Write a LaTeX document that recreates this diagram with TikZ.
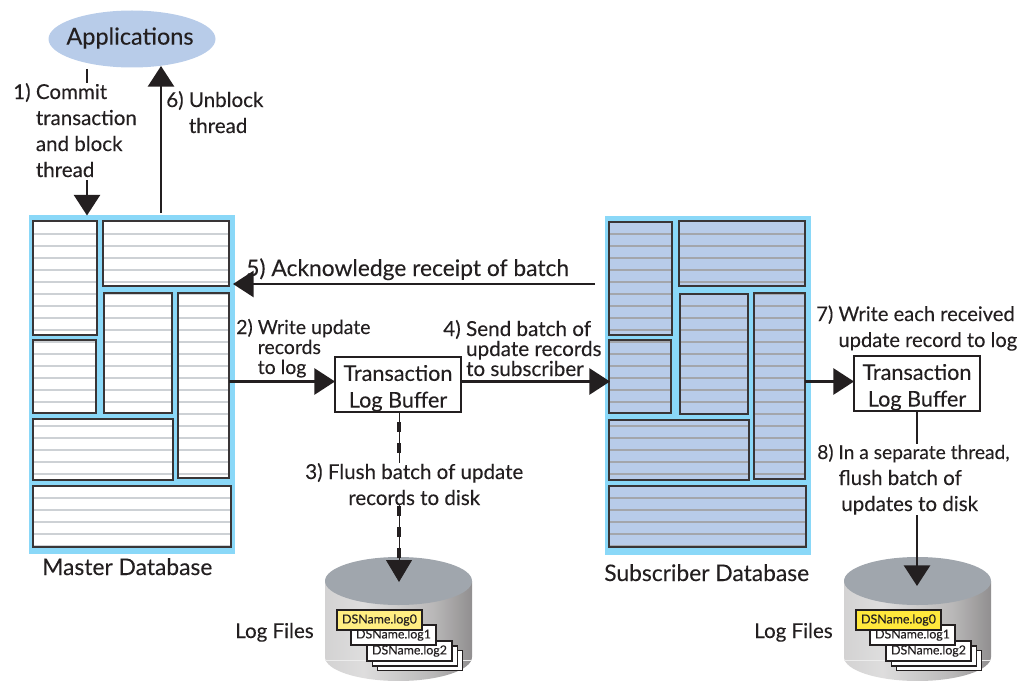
\documentclass[tikz,border=0pt]{standalone}
\usepackage{fontspec}
\setmainfont[FakeBold=0.12]{Lato}
\usetikzlibrary{arrows.meta,shapes.geometric}
\definecolor{ink}{HTML}{231F20}
\definecolor{frameblue}{HTML}{8AD8F8}
\definecolor{panelblue}{HTML}{B8CCE9}
\definecolor{gridlight}{HTML}{CDD1D5}
\definecolor{griddark}{HTML}{A3A6AB}
\definecolor{disktop}{HTML}{A0A6AD}
\definecolor{softyellow}{HTML}{FFEE82}
\definecolor{hotyellow}{HTML}{FFE83C}
\pgfdeclarehorizontalshading{cylbody}{100bp}{color(0bp)=(ink!20!white);color(25bp)=(ink!20!white);color(38bp)=(ink!15!white);color(62bp)=(ink!32!white);color(75bp)=(ink!50!white);color(100bp)=(ink!52!white)}
\tikzset{
  conn/.style={draw=ink,line width=2.2pt},
  arrowed/.style={conn,-{Triangle[length=15.5pt,width=19.5pt]}},
  label/.style={anchor=base west,inner sep=0pt,text=ink,align=left,font=\fontsize{15.4pt}{19.5pt}\selectfont},
  tight/.style={font=\fontsize{#1}{15pt}\selectfont},
  big/.style={font=\fontsize{17.1pt}{19.5pt}\selectfont},
  hide/.style={fill=white},
  dbframe/.style={fill=frameblue,inner sep=0pt,outer sep=0pt},
  panelbox/.style={draw=ink!90,line width=1.5pt,inner sep=0pt,outer sep=0pt},
  txbox/.style={draw=ink,line width=1.5pt,fill=white,inner sep=0pt,outer sep=0pt,text=ink,align=center,minimum width=94.5pt,minimum height=41.5pt,font=\fontsize{16.2pt}{20pt}\selectfont},
  logbox/.style={draw=ink,line width=1.2pt,fill=white,inner sep=0pt,outer sep=0pt,text=ink,minimum width=64pt,minimum height=15pt,font=\fontsize{9.3pt}{12pt}\selectfont},
}
% name, x1,y1,x2,y2, fill, gridcolor
\newcommand{\dbpanel}[7]{%
  \fill[#6] (#2,#3) rectangle (#4,#5);
  \begin{scope}
    \clip (#2,#3) rectangle (#4,#5);
    \foreach \gy in {234,246,...,546} \draw[#7,line width=1.1pt] (#2,\gy) -- (#4,\gy);
  \end{scope}
  \pgfmathsetmacro{\pw}{(#4-#2)*0.75}\pgfmathsetmacro{\ph}{(#5-#3)*0.75}
  \node[panelbox,minimum width=\pw pt,minimum height=\ph pt] (#1) at ({(#2+#4)/2},{(#3+#5)/2}) {};
}
% prefix, xoffset, top colour
\newcommand{\diskstack}[3]{%
  \begin{scope}[xshift=#2*0.75pt]
    \shade[shading=cylbody] (325,581) -- (325,657) .. controls (325,670.25) and (358,681) .. (398.5,681) .. controls (439,681) and (472,670.25) .. (472,657) -- (472,581) -- cycle;
    \draw[white!85!gray,line width=0.6pt] (325,660) -- (472,660);
    \node[ellipse,fill=disktop,inner sep=0pt,outer sep=0pt,minimum width=110.25pt,minimum height=36pt] (#1top) at (398.5,581) {};
    \node[logbox] (#1back) at (420,660.5) {};
    \node[logbox] (#1mid) at (415,656) {};
    \node[logbox] (#1c) at (409.5,651) {DSName.log2};
    \node[logbox] (#1b) at (393.5,635) {DSName.log1};
    \node[logbox,fill=#3] (#1a) at (379.5,620) {DSName.log0};
  \end{scope}
}
\begin{document}
\begin{tikzpicture}[x=0.75pt,y=-0.75pt]
\useasboundingbox (0,0) rectangle (1027,681);
% frames
\node[dbframe,minimum width=154.5pt,minimum height=254.25pt] (master) at (132,384.5) {};
\node[dbframe,minimum width=154.5pt,minimum height=254.25pt] (sub) at (708,385.5) {};
% master panels
\dbpanel{ma}{33}{221}{97}{335}{white}{gridlight}
\dbpanel{mb}{103}{221}{229}{286}{white}{gridlight}
\dbpanel{mc}{104}{293}{172}{413}{white}{gridlight}
\dbpanel{md}{178}{293}{229}{478}{white}{gridlight}
\dbpanel{me}{33}{340}{96}{413}{white}{gridlight}
\dbpanel{mf}{33}{419}{173}{480}{white}{gridlight}
\dbpanel{mg}{33}{486}{231}{547}{white}{gridlight}
% subscriber panels
\dbpanel{sa}{609}{222}{672}{335}{panelblue}{griddark}
\dbpanel{sb}{679}{221}{805}{286}{panelblue}{griddark}
\dbpanel{sc}{680}{294}{748}{414}{panelblue}{griddark}
\dbpanel{sd}{754}{293}{805}{479}{panelblue}{griddark}
\dbpanel{se}{609}{340}{671}{413}{panelblue}{griddark}
\dbpanel{sf}{609}{420}{749}{480}{panelblue}{griddark}
\dbpanel{sg}{609}{486}{806}{547}{panelblue}{griddark}
% applications
\node[ellipse,fill=panelblue,inner sep=0pt,minimum width=125.25pt,minimum height=42.75pt] (apps) at (132,39) {};
\node[inner sep=0pt,text=ink,font=\fontsize{17.6pt}{20pt}\selectfont] (appstext) at (130,38) {Applications};
% disks
\diskstack{da}{0}{softyellow}
\diskstack{db}{519}{hotyellow}
% buffers
\node[txbox] (tb1) at (398,384.5) {\rule{0pt}{17.5pt}Transaction\\Log Buffer};
\node[txbox] (tb2) at (917,383.5) {\rule{0pt}{17.5pt}Transaction\\Log Buffer};
% free connector ends
\coordinate (lev) at (0,381.5);
\coordinate (c1a) at (87,69);
\coordinate (c1b) at (87,215.5);
\coordinate (c6a) at (161,213);
\coordinate (c6b) at (161,66);
\coordinate (c5a) at (595,284);
\coordinate (c5b) at (233,284);
\coordinate (c4b) at (610,381.5);
\coordinate (c3a) at (399,412);
\coordinate (c3c) at (399,422);
\coordinate (c3d) at (399,560);
\coordinate (c3b) at (399,582);
\coordinate (c8a) at (917,411);
\coordinate (c8b) at (917,586);
% connectors
\draw[arrowed] (c1a) -- (c1b);
\draw[arrowed] (c6a) -- (c6b);
\draw[arrowed] (c5a) -- (c5b);
\draw[arrowed] (md.east |- lev) -- (tb1.west |- lev);
\draw[arrowed] (tb1.east |- lev) -- (c4b);
\draw[arrowed] (sd.east |- lev) -- (tb2.west |- lev);
\draw[draw=ink,line width=0.6pt,-{Triangle[length=16.5pt,width=19.5pt]}] (c3a) -- (c3b);
\draw[draw=ink,line width=2.4pt,dash pattern=on 7.5pt off 8.25pt] (c3c) -- (c3d);
\draw[arrowed] (c8a) -- (c8b);
% labels
\node[label,hide] (l1) at (13,177) {1) Commit\\\phantom{1) }transaction\\\phantom{1) }and block\\\phantom{1) }thread};
\node[label] (l6) at (166,133) {6) Unblock\\\phantom{6) }thread};
\node[label,big] (l5) at (246,276) {5) Acknowledge receipt of batch};
\node[label,tight=14.6pt] (l2) at (236,374) {2) Write update\\\phantom{2) }records\\\phantom{2) }to log};
\node[label,tight=15.5pt] (l4) at (443,376) {4) Send batch of\\\phantom{4) }update records\\\phantom{4) }to subscriber};
\node[label,hide,align=center] (l3) at (305,505) {3) Flush batch of update\\records to disk};
\node[label,font=\fontsize{15.1pt}{19.5pt}\selectfont] (l7) at (816,347) {7) Write each received\\\phantom{7) }update record to log};
\node[label,hide] (l8) at (817,511) {{\fontsize{14.4pt}{19.5pt}\selectfont 8) In a separate thread,}\\\hspace*{16pt}flush batch of\\\hspace*{18pt}updates to disk};
\node[label,big] (lm) at (42,575) {Master Database};
\node[label,big] (ls) at (604,581) {Subscriber Database};
\node[label] (lf1) at (235,638) {Log Files};
\node[label] (lf2) at (754,638) {Log Files};
\end{tikzpicture}
\end{document}
